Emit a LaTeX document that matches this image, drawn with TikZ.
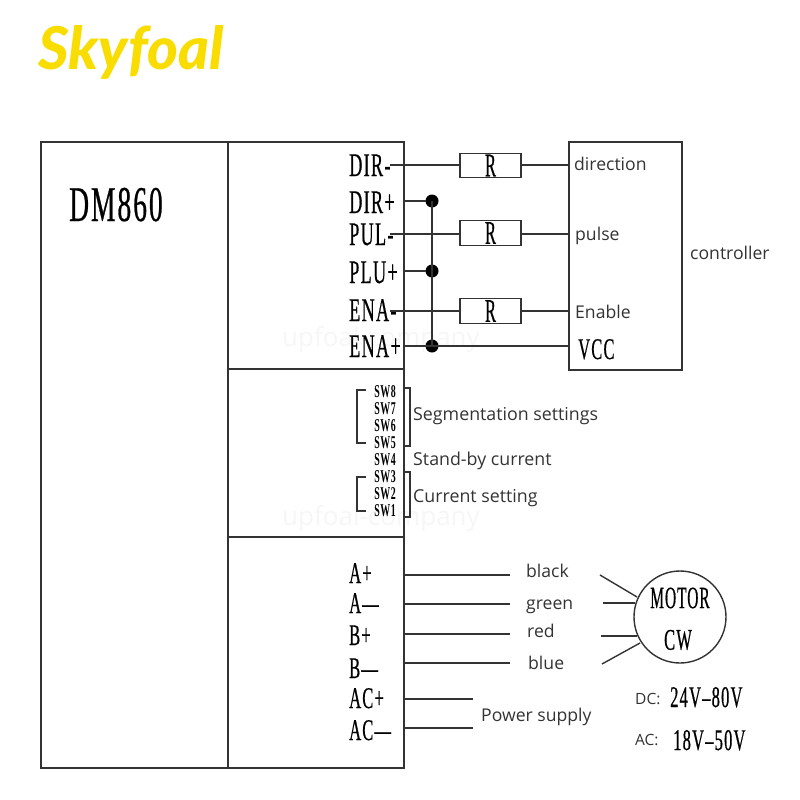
\documentclass[tikz,border=0pt]{standalone}
\usepackage{fontspec}
\setmainfont{Open Sans}
\newfontfamily\condf[FakeStretch=0.55,LetterSpace=4,FakeBold=0.5]{Liberation Serif}
\newfontfamily\condt[FakeStretch=0.5,LetterSpace=3,FakeBold=0.5]{Liberation Serif}
\newfontfamily\swf[FakeStretch=0.55,LetterSpace=3]{Liberation Serif}
\newfontfamily\plainc[FakeStretch=0.5,FakeBold=0.5]{Liberation Serif}
\newfontfamily\logof{Lato Black Italic}
\definecolor{ink}{HTML}{333333}
\definecolor{logoyellow}{HTML}{F9DC00}
\definecolor{wmark}{HTML}{F6F6F6}
\tikzset{
  wire/.style={draw=ink,line width=1.4pt},
  boxline/.style={draw=ink,line width=1.5pt},
  frameb/.style={boxline,outer sep=0pt,inner sep=0pt,anchor=north west},
  resbox/.style={draw=ink,line width=1.4pt,fill=white,outer sep=0pt,minimum width=61pt,minimum height=24.5pt,inner sep=0pt,font=\plainc\fontsize{33}{33}\selectfont},
  dotn/.style={circle,fill=black,outer sep=0pt,minimum size=13pt,inner sep=0pt},
  term/.style={anchor=base west,inner sep=0pt,text=black,font=\condf\fontsize{33}{33}\selectfont},
  termb/.style={anchor=base west,inner sep=0pt,text=black,font=\condf\fontsize{30}{30}\selectfont},
  swl/.style={anchor=center,inner sep=0pt,text=black,font=\swf\bfseries\fontsize{18}{18}\selectfont},
  lab/.style={anchor=base west,inner sep=0pt,text=ink,font=\fontsize{17.6}{17.6}\selectfont},
  lbl/.style={anchor=base west,inner sep=0pt,text=ink,font=\fontsize{17.8}{17.8}\selectfont},
  smalllab/.style={anchor=base west,inner sep=0pt,text=ink,font=\fontsize{15.5}{15.5}\selectfont},
  wm/.style={anchor=center,inner sep=0pt,text=wmark,font=\fontsize{26}{26}\selectfont}
}
\begin{document}
\begin{tikzpicture}[x=1pt,y=-1pt]
\useasboundingbox (0,0) rectangle (800,800);
% logo
\node[anchor=base west,inner sep=0pt,text=logoyellow,font=\logof\fontsize{59}{59}\selectfont] (logo) at (38,70) {Skyfoal};
% watermarks
\node[wm] (wma) at (381,340) {upfoal-company};
\node[wm] (wmb) at (381,519) {upfoal-company};
% main frame
\node[frameb,draw,minimum width=363pt,minimum height=626pt] (driver) at (41,142) {};
\coordinate (splitT) at (228,142);
\coordinate (splitB) at (228,768);
\draw[boxline] (splitT) -- (splitB);
\coordinate (h1a) at (228,369); \coordinate (h1b) at (404,369);
\coordinate (h2a) at (228,537); \coordinate (h2b) at (404,537);
\draw[boxline] (h1a) -- (h1b);
\draw[boxline] (h2a) -- (h2b);
\node[anchor=base west,inner sep=0pt,text=black,font=\condf\fontsize{50}{50}\selectfont] (model) at (69,221) {DM860};
% controller
\node[frameb,draw,minimum width=113pt,minimum height=228pt] (ctrl) at (569,142) {};
\node[lab] (ctrltxt) at (690,259) {controller};
% terminals
\node[term] (dirm) at (349,176) {DIR-};
\node[term] (dirp) at (349,213) {DIR+};
\node[term] (pulm) at (349,245) {PUL-};
\node[term] (plup) at (349,283) {PLU+};
\node[term] (enam) at (349,321) {ENA-};
\node[term] (enap) at (349,357) {ENA+};
\coordinate (pdirm) at (390,165);
\coordinate (pdirp) at (404,201);
\coordinate (ppulm) at (390,234);
\coordinate (pplup) at (404,271);
\coordinate (penam) at (390,311);
\coordinate (penap) at (404,346);
\coordinate (cdir) at (569,165);
\coordinate (cpul) at (569,234);
\coordinate (cena) at (569,311);
\coordinate (cvcc) at (569,346);
% resistors
\node[resbox] (r1) at (490.5,165.5) {R};
\node[resbox] (r2) at (490.5,233) {R};
\node[resbox] (r3) at (490.5,311) {R};
\draw[wire] (pdirm) -- (r1.west |- pdirm);
\draw[wire] (r1.east |- cdir) -- (cdir);
\draw[wire] (ppulm) -- (r2.west |- ppulm);
\draw[wire] (r2.east |- cpul) -- (cpul);
\draw[wire] (penam) -- (r3.west |- penam);
\draw[wire] (r3.east |- cena) -- (cena);
% junctions
\node[dotn] (j1) at (432,201) {};
\node[dotn] (j2) at (432,271) {};
\node[dotn] (j3) at (432,346) {};
\draw[wire] (j1.center) -- (j3.center);
\draw[wire] (pdirp) -- (j1);
\draw[wire] (pplup) -- (j2);
\draw[wire] (penap) -- (cvcc);
% controller labels
\node[lab] (tdir) at (574,170) {direction};
\node[lab] (tpul) at (575,240) {pulse};
\node[lab] (tena) at (575,318) {Enable};
\node[termb] (tvcc) at (578,359) {VCC};
% switches
\node[swl] (sw8) at (385,392) {SW8};
\node[swl] (sw7) at (385,409) {SW7};
\node[swl] (sw6) at (385,426) {SW6};
\node[swl] (sw5) at (385,443) {SW5};
\node[swl] (sw4) at (385,460) {SW4};
\node[swl] (sw3) at (385,477) {SW3};
\node[swl] (sw2) at (385,494) {SW2};
\node[swl] (sw1) at (385,511) {SW1};
\coordinate (la1) at (366,390); \coordinate (la2) at (366,443);
\coordinate (lb1) at (366,477); \coordinate (lb2) at (366,511);
\draw[wire] (la1) -| (357,443) -- (la2);
\draw[wire] (lb1) -| (357,511) -- (lb2);
\coordinate (ra1) at (404,388); \coordinate (ra2) at (404,446);
\coordinate (rb1) at (404,472); \coordinate (rb2) at (404,517);
\draw[wire] (ra1) -| (410,446) -- (ra2);
\draw[wire] (rb1) -| (410,517) -- (rb2);
\node[lbl] (tseg) at (413,420) {Segmentation settings};
\node[lbl] (tsb) at (413,465) {Stand-by current};
\node[lbl] (tcur) at (413,502) {Current setting};
% motor terminals
\node[termb] (ta) at (349,583) {A+};
\node[termb] (tb) at (349,613) {A—};
\node[termb] (tc) at (349,645) {B+};
\node[termb] (td) at (349,678) {B—};
\node[termb] (te) at (349,708) {AC+};
\node[termb] (tf) at (349,740) {AC—};
\coordinate (wa1) at (404,575); \coordinate (wa2) at (510,575);
\coordinate (wb1) at (404,604); \coordinate (wb2) at (510,604);
\coordinate (wc1) at (404,634); \coordinate (wc2) at (510,634);
\coordinate (wd1) at (404,663); \coordinate (wd2) at (510,663);
\coordinate (we1) at (404,699); \coordinate (we2) at (473,699);
\coordinate (wf1) at (404,728); \coordinate (wf2) at (473,728);
\draw[wire] (wa1) -- (wa2);
\draw[wire] (wb1) -- (wb2);
\draw[wire] (wc1) -- (wc2);
\draw[wire] (wd1) -- (wd2);
\draw[wire] (we1) -- (we2);
\draw[wire] (wf1) -- (wf2);
\node[lab] (tblack) at (526,577) {black};
\node[lab] (tgreen) at (526,609) {green};
\node[lab] (tred) at (527,637) {red};
\node[lab] (tblue) at (528,669) {blue};
\node[lab] (tpow) at (481,721) {Power supply};
% motor
\node[circle,draw=ink,line width=1.4pt,outer sep=0pt,minimum size=92pt,inner sep=0pt] (motor) at (680,617) {};
\node[anchor=center,inner sep=0pt,text=black,font=\condt\fontsize{31}{31}\selectfont] (tmotor) at (680,598) {MOTOR};
\node[anchor=center,inner sep=0pt,text=black,font=\condf\fontsize{30}{30}\selectfont] (tcw) at (678,640) {CW};
\coordinate (ma) at (600,575);
\coordinate (mb) at (603,603);
\coordinate (mc) at (601,636);
\coordinate (md) at (602,664);
\coordinate (maa) at (637,597);
\coordinate (mbb) at (635,603);
\coordinate (mcc) at (637,636);
\coordinate (mdd) at (640,643);
\draw[wire] (ma) -- (maa);
\draw[wire] (mb) -- (mbb);
\draw[wire] (mc) -- (mcc);
\draw[wire] (md) -- (mdd);
% voltages
\node[smalllab] (tdc) at (635,704) {DC:};
\node[smalllab] (tac) at (635,745) {AC:};
\node[termb] (vdc) at (670,707) {24V–80V};
\node[termb] (vac) at (673,750) {18V–50V};
\end{tikzpicture}
\end{document}
